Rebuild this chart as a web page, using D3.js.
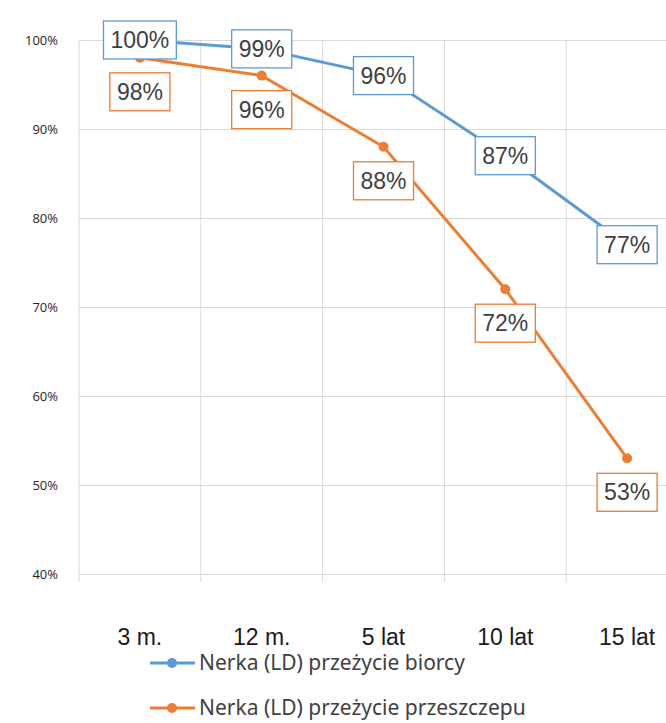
<!DOCTYPE html>
<html lang="pl">
<head>
<meta charset="UTF-8" />
<title>Nerka (LD)</title>
<script src="https://d3js.org/d3.v7.min.js"></script>
<style>
  body { margin: 0; background: #fff; }
  .gridlines line { stroke: #d9d9d9; }
  .gridlines .domain { display: none; }
</style>
</head>
<body>
<svg id="chart" width="666" height="723"></svg>
<script>
const categories = ["3 m.", "12 m.", "5 lat", "10 lat", "15 lat"];
const biorcy = [100, 99, 96, 87, 77];
const przeszczepu = [98, 96, 88, 72, 53];
const yTicks = [40, 50, 60, 70, 80, 90, 100];
const seriesNames = ["Nerka (LD) przeżycie biorcy", "Nerka (LD) przeżycie przeszczepu"];
const colors = ["#5b9bd5", "#ed7d31"];

const svg = d3.select("svg#chart");
const margin = {top: 40, left: 79};
const plotWidth = 609;
const plotHeight = 534;

const xScale = d3.scaleBand().domain(categories).range([0, plotWidth]);
const yScale = d3.scaleLinear().domain([40, 100]).range([plotHeight, 0]);

let plot = svg.append("g").attr("transform", `translate(${margin.left},${margin.top})`);

// horizontal gridlines
plot.append("g")
    .attr("class", "gridlines")
    .call(d3.axisLeft(yScale).tickValues(yTicks).tickSize(-plotWidth).tickFormat(""))
    .call(g => g.selectAll("line").attr("stroke", "#d9d9d9"));

// vertical gridlines between categories
const bounds = categories.map(c => xScale(c));
plot.append("g")
    .selectAll("line")
    .data(bounds)
    .join("line")
    .attr("x1", d => d).attr("x2", d => d)
    .attr("y1", 0).attr("y2", plotHeight + 8)
    .attr("stroke", "#d9d9d9");

// y tick labels
plot.append("g")
    .selectAll("text")
    .data(yTicks)
    .join("text")
    .attr("x", -21)
    .attr("y", d => yScale(d))
    .attr("dy", "0.35em")
    .attr("text-anchor", "end")
    .style("font-family", "'Open Sans', 'Liberation Sans', sans-serif")
    .style("font-size", "13px")
    .attr("fill", "#262626")
    .text(d => d + "%");

// x labels
plot.append("g")
    .selectAll("text")
    .data(categories)
    .join("text")
    .attr("x", d => xScale(d) + xScale.bandwidth() / 2)
    .attr("y", plotHeight + 71)
    .attr("text-anchor", "middle")
    .style("font-family", "'Liberation Sans Narrow', 'Liberation Sans', Arial, sans-serif")
    .style("font-size", "23px")
    .attr("fill", "#1a1a1a")
    .text(d => d);

const cx = c => xScale(c) + xScale.bandwidth() / 2;
const lineGen = d3.line()
    .x(d => cx(d.cat))
    .y(d => yScale(d.value));

const series = [biorcy, przeszczepu].map((vals, i) =>
    vals.map((v, j) => ({cat: categories[j], value: v, s: i})));

series.forEach((data, i) => {
    plot.append("path")
        .datum(data)
        .attr("fill", "none")
        .attr("stroke", colors[i])
        .attr("stroke-width", 3)
        .attr("d", lineGen);
    plot.append("g")
        .selectAll("circle")
        .data(data)
        .join("circle")
        .attr("cx", d => cx(d.cat))
        .attr("cy", d => yScale(d.value))
        .attr("r", 5)
        .attr("fill", colors[i]);
});

// data labels: series 0 centered on the point, series 1 below
series.forEach((data, i) => {
    const g = plot.append("g")
        .selectAll("g")
        .data(data)
        .join("g")
        .attr("transform", d => `translate(${cx(d.cat)},${yScale(d.value) + (i === 0 ? 0 : 34)})`);
    g.append("text")
        .attr("text-anchor", "middle")
        .attr("dy", "0.35em")
        .style("font-family", "'Liberation Sans', Arial, sans-serif")
        .style("font-size", "23px")
        .attr("fill", "#404040")
        .text(d => d.value + "%");
    g.each(function() {
        const node = d3.select(this);
        const bb = node.select("text").node().getBBox();
        node.insert("rect", "text")
            .attr("x", bb.x - 7)
            .attr("y", -19)
            .attr("width", bb.width + 14)
            .attr("height", 38)
            .attr("fill", "#fff")
            .attr("stroke", colors[i])
            .attr("stroke-width", 1.3);
    });
});

// legend
const legend = svg.append("g");
seriesNames.forEach((name, i) => {
    const y = 663 + i * 45;
    legend.append("line")
        .attr("x1", 150).attr("x2", 195)
        .attr("y1", y).attr("y2", y)
        .attr("stroke", colors[i])
        .attr("stroke-width", 3);
    legend.append("circle")
        .attr("cx", 172).attr("cy", y)
        .attr("r", 5)
        .attr("fill", colors[i]);
    legend.append("text")
        .attr("x", 199)
        .attr("y", y)
        .attr("dy", "0.35em")
        .style("font-family", "'Noto Sans', 'Open Sans', sans-serif")
        .style("font-size", "21px")
        .attr("fill", "#404040")
        .text(name);
});
</script>
</body>
</html>
